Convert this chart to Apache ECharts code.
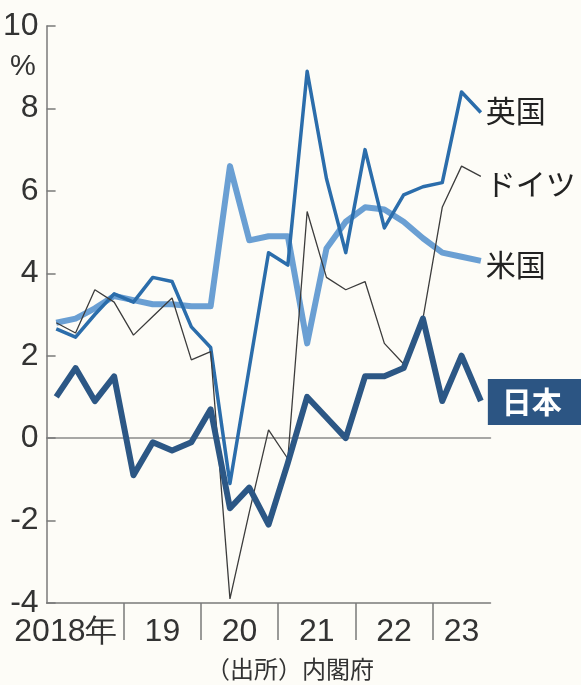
<!DOCTYPE html>
<html>
<head>
<meta charset="utf-8">
<script src="https://cdn.jsdelivr.net/npm/echarts@6/dist/echarts.min.js"></script>
<style>
  html, body { margin: 0; padding: 0; background: #fdfcf7; }
  #chart { width: 581px; height: 685px; }
</style>
</head>
<body>
<div id="chart"></div>
<script>
// Quarterly series, 2018 Q1 – 2023 Q3 (%)
const quarters = [
  '2018Q1','2018Q2','2018Q3','2018Q4',
  '2019Q1','2019Q2','2019Q3','2019Q4',
  '2020Q1','2020Q2','2020Q3','2020Q4',
  '2021Q1','2021Q2','2021Q3','2021Q4',
  '2022Q1','2022Q2','2022Q3','2022Q4',
  '2023Q1','2023Q2','2023Q3'
];
const uk      = [2.65, 2.45, 3.0, 3.5, 3.3, 3.9, 3.8, 2.7, 2.2, -1.1, 1.7, 4.5, 4.2, 8.9, 6.3, 4.5, 7.0, 5.1, 5.9, 6.1, 6.2, 8.4, 7.9];
const germany = [2.8, 2.55, 3.6, 3.3, 2.5, 2.95, 3.4, 1.9, 2.1, -3.9, -1.8, 0.2, -0.5, 5.5, 3.9, 3.6, 3.8, 2.3, 1.8, 2.9, 5.6, 6.6, 6.35];
const us      = [2.8, 2.9, 3.15, 3.45, 3.35, 3.25, 3.25, 3.2, 3.2, 6.6, 4.8, 4.9, 4.9, 2.3, 4.6, 5.25, 5.6, 5.55, 5.25, 4.85, 4.5, 4.4, 4.3];
const japan   = [1.0, 1.7, 0.9, 1.5, -0.9, -0.1, -0.3, -0.1, 0.7, -1.7, -1.2, -2.1, -0.6, 1.0, 0.5, 0.0, 1.5, 1.5, 1.7, 2.9, 0.9, 2.0, 0.9];

// Year labels on the lower axis and the quarter positions they sit at
const yearLabels = ['2018年', '19', '20', '21', '22', '23'];
const yearLabelPos = [1.0, 6, 10, 14, 18, 21.5];
const yearBreaks = [4, 8, 12, 16, 20];

const yTicks = { min: -4, max: 10, step: 2 };

const numFont = '"Liberation Sans Narrow", "Liberation Sans", Arial, sans-serif';
const jpFont = '"Noto Sans CJK JP", "Noto Sans", sans-serif';
const axisGray = '#7a7a7a';

const chart = echarts.init(document.getElementById('chart'), null, { renderer: 'canvas' });

function endLabel(text, offset, extra) {
  return Object.assign({
    show: true,
    formatter: text,
    distance: 5,
    offset: offset,
    fontFamily: jpFont,
    fontSize: 30,
    color: '#222'
  }, extra || {});
}

chart.setOption({
  backgroundColor: '#fdfcf7',
  animation: false,
  grid: { left: 44, right: 90.5, top: 26, bottom: 82, containLabel: false },
  xAxis: [
    {
      type: 'category',
      data: quarters,
      boundaryGap: true,
      axisLine: { show: true, onZero: true, lineStyle: { color: '#8a8a8a', width: 1.5 } },
      axisTick: { show: false },
      axisLabel: { show: false },
      splitLine: { show: false }
    },
    {
      type: 'value',
      position: 'bottom',
      min: 0,
      max: quarters.length,
      axisLine: { show: true, onZero: false, lineStyle: { color: axisGray, width: 1.5 } },
      axisTick: {
        show: true,
        inside: false,
        length: 37,
        customValues: yearBreaks,
        lineStyle: { color: axisGray, width: 1.5 }
      },
      axisLabel: {
        show: true,
        customValues: yearLabelPos,
        formatter: function (v) {
          const i = yearLabelPos.indexOf(v);
          return i >= 0 ? yearLabels[i] : '';
        },
        margin: 13,
        fontFamily: numFont,
        fontSize: 32,
        color: '#333'
      },
      splitLine: { show: false }
    }
  ],
  yAxis: {
    type: 'value',
    min: yTicks.min,
    max: yTicks.max,
    interval: yTicks.step,
    axisLine: { show: true, onZero: false, lineStyle: { color: axisGray, width: 1.5 } },
    axisTick: { show: true, inside: true, length: 9, lineStyle: { color: axisGray, width: 1.5 } },
    axisLabel: {
      margin: 8,
      fontFamily: numFont,
      fontSize: 32,
      color: '#333'
    },
    splitLine: { show: false }
  },
  graphic: [
    {
      type: 'text',
      left: 10,
      top: 52,
      style: { text: '%', fontFamily: numFont, fontSize: 29, fill: '#333' }
    },
    {
      type: 'text',
      left: 206,
      top: 657,
      style: { text: '（出所）内閣府', fontFamily: jpFont, fontSize: 24, fill: '#333' }
    }
  ],
  series: [
    {
      name: '米国',
      type: 'line',
      data: us,
      symbol: 'none',
      z: 2,
      lineStyle: { color: '#6a9fd3', width: 6, join: 'round' },
      endLabel: endLabel('米国', [0, 4])
    },
    {
      name: '英国',
      type: 'line',
      data: uk,
      symbol: 'none',
      z: 3,
      lineStyle: { color: '#2b6dab', width: 3.5, join: 'round' },
      endLabel: endLabel('英国', [0, -2])
    },
    {
      name: 'ドイツ',
      type: 'line',
      data: germany,
      symbol: 'none',
      z: 4,
      lineStyle: { color: '#3c3c3c', width: 1.3 },
      endLabel: endLabel('ドイツ', [0, 7])
    },
    {
      name: '日本',
      type: 'line',
      data: japan,
      symbol: 'none',
      z: 5,
      lineStyle: { color: '#2c5785', width: 6, join: 'round' },
      endLabel: endLabel('日本', [0, 1], {
        distance: 7,
        color: '#ffffff',
        fontWeight: 'bold',
        backgroundColor: '#2c5583',
        padding: [8, 30, 8, 14]
      })
    }
  ]
});
</script>
</body>
</html>
